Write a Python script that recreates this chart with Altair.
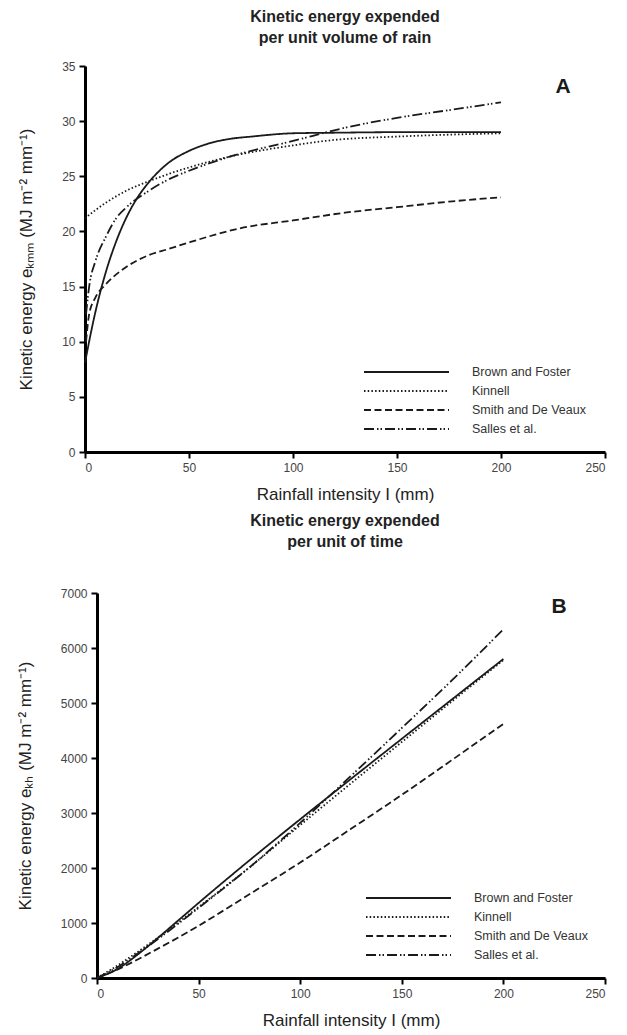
import altair as alt
import pandas as pd

series = ["Brown and Foster", "Kinnell", "Smith and De Veaux", "Salles et al."]
dashes = [[1, 0], [1.5, 2.2], [7, 3.5], [10, 3, 1.5, 2, 1.5, 3]]

# Panel A: kinetic energy per unit volume of rain (MJ m-2 mm-1)
a_bf_x = [0, 5, 10, 15, 20, 25, 30, 40, 50, 60, 70, 80, 100, 120, 150, 200]
a_bf_y = [8.1, 12.7, 16.3, 19.1, 21.3, 23.0, 24.3, 26.2, 27.3, 28.0, 28.4, 28.6, 28.9, 28.95, 29.0, 29.0]
a_ki_x = [0, 10, 20, 30, 40, 50, 70, 100, 120, 150, 200]
a_ki_y = [21.2, 22.6, 23.7, 24.5, 25.2, 25.8, 26.8, 27.8, 28.3, 28.6, 28.9]
a_sd_x = [0.5, 2, 5, 10, 20, 30, 40, 50, 75, 100, 125, 150, 175, 200]
a_sd_y = [10.0, 12.5, 14.0, 15.2, 16.8, 17.8, 18.4, 19.0, 20.3, 21.0, 21.7, 22.2, 22.7, 23.1]
a_sa_x = [0.5, 2, 5, 10, 15, 20, 30, 40, 50, 70, 100, 125, 150, 175, 200]
a_sa_y = [12.5, 15.0, 17.3, 19.5, 21.2, 22.2, 23.6, 24.7, 25.5, 26.8, 28.2, 29.4, 30.3, 31.0, 31.7]

# Panel B: kinetic energy per unit of time
b_x = [0, 10, 20, 30, 40, 50, 75, 100, 125, 150, 175, 200]
b_bf = [0, 163, 426, 730, 1047, 1365, 2138, 2886, 3620, 4349, 5075, 5800]
b_ki = [0, 226, 474, 735, 1008, 1290, 2010, 2780, 3540, 4290, 5040, 5780]
b_sd = [0, 152, 336, 534, 736, 950, 1522, 2100, 2712, 3330, 3972, 4620]
b_sa = [0, 195, 444, 708, 988, 1275, 2010, 2820, 3675, 4545, 5425, 6340]

x_ticks = [0, 50, 100, 150, 200, 250]
a_ticks = [0, 5, 10, 15, 20, 25, 30, 35]
b_ticks = [0, 1000, 2000, 3000, 4000, 5000, 6000, 7000]

FONT = "Liberation Sans"
INK = "#1a1a1a"


def long_df(parts):
    rows = []
    for name, xs, ys in parts:
        for i, (x, y) in enumerate(zip(xs, ys)):
            rows.append({"series": name, "I": x, "E": y, "o": i})
    return pd.DataFrame(rows)


dfa = long_df([(series[0], a_bf_x, a_bf_y), (series[1], a_ki_x, a_ki_y),
               (series[2], a_sd_x, a_sd_y), (series[3], a_sa_x, a_sa_y)])
dfb = long_df([(series[0], b_x, b_bf), (series[1], b_x, b_ki),
               (series[2], b_x, b_sd), (series[3], b_x, b_sa)])

dash_scale = alt.Scale(domain=series, range=dashes)
legend_df = pd.DataFrame({"series": series, "row": list(range(len(series)))})


def panel(df, ydomain, yticks, ytitle, title, title_offset, letter, letter_xy,
          width, height, leg_x, leg_rows, shift):
    x = alt.X("I:Q", scale=alt.Scale(domain=[0, 250], nice=False, range=[shift, width]),
              axis=alt.Axis(values=x_ticks, title="Rainfall intensity I (mm)", titlePadding=13))
    y = alt.Y("E:Q", scale=alt.Scale(domain=ydomain, nice=False),
              axis=alt.Axis(values=yticks, format="d", title=ytitle, titlePadding=26,
                            offset=-shift))
    lines = alt.Chart(df).mark_line(color=INK, strokeWidth=1.8, interpolate="monotone").encode(
        x=x, y=y, order="o:Q",
        strokeDash=alt.StrokeDash("series:N", scale=dash_scale, legend=None),
        detail="series:N",
    )
    ly = alt.Y("row:Q", scale=alt.Scale(domain=[0, 3], range=leg_rows, nice=False, zero=False), axis=None)
    rules = alt.Chart(legend_df).mark_rule(color=INK, strokeWidth=1.8).encode(
        x=alt.value(leg_x), x2=alt.value(leg_x + 85), y=ly,
        strokeDash=alt.StrokeDash("series:N", scale=dash_scale, legend=None),
    )
    labels = alt.Chart(legend_df).mark_text(align="left", baseline="middle", font=FONT,
                                            fontSize=12.5, color="#333").encode(
        x=alt.value(leg_x + 108), y=ly, text="series:N")
    let = alt.Chart(pd.DataFrame({"t": [letter]})).mark_text(
        font=FONT, fontSize=21, fontWeight="bold", color=INK).encode(
        x=alt.value(letter_xy[0]), y=alt.value(letter_xy[1]), text="t:N")
    return alt.layer(lines, rules, labels, let).resolve_scale(y="independent").properties(
        width=width, height=height,
        title=alt.TitleParams(title, fontSize=16, font=FONT, fontWeight="bold", color="#222",
                              anchor="middle", offset=title_offset, lineHeight=21),
    )


pa = panel(dfa, [0, 35], a_ticks, "Kinetic energy eₖₘₘ (MJ m⁻² mm⁻¹)",
           ["Kinetic energy expended", "per unit volume of rain"], 14, "A", (478, 21),
           520, 386, 279, [306, 363], 0)
pb = panel(dfb, [0, 7000], b_ticks, "Kinetic energy eₖₕ (MJ m⁻² mm⁻¹)",
           ["Kinetic energy expended", "per unit of time"], 37, "B", (474, 14),
           520, 385, 281, [305, 362], 12)

chart = alt.ConcatChart(concat=[pa, pb], columns=1, align="none", spacing=11).properties(
    padding={"left": 16, "top": 9, "right": 4, "bottom": 2}
).configure_view(stroke=None).configure_axis(
    domainColor="black", domainWidth=3, tickColor="black", tickWidth=2, tickSize=6,
    labelFont=FONT, labelFontSize=12, labelColor="#444", labelPadding=4,
    titleFont=FONT, titleFontSize=17, titleFontWeight="normal", titleColor="#222", grid=False,
)

chart.save("out.html", embed_options={"renderer": "svg", "actions": False})
